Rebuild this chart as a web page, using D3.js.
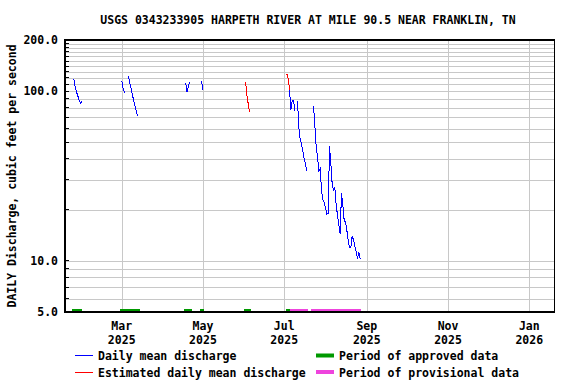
<!DOCTYPE html>
<html>
<head>
<meta charset="utf-8">
<script src="https://cdn.jsdelivr.net/npm/d3@7"></script>
<style>
  body { margin: 0; background: #fff; }
  svg text { font-family: "DejaVu Sans Mono", monospace; font-weight: bold; font-size: 11.5px; fill: #000; }
</style>
</head>
<body>
<svg id="chart" width="576" height="384"></svg>
<script>

var title = "USGS 0343233905 HARPETH RIVER AT MILE 90.5 NEAR FRANKLIN, TN";
var yTitle = "DAILY Discharge, cubic feet per second";

// daily mean discharge, runs of consecutive days (start date + values)
var dailyStarts = ["2025-01-24", "2025-03-01", "2025-03-06", "2025-04-18", "2025-04-30", "2025-07-05", "2025-07-11", "2025-07-23"];
var dailyValues = [
  [118, 107, 99, 94, 88, 85, 87],
  [115, 104, 98],
  [123, 112, 104, 95, 88, 82, 76, 71],
  [112, 99, 106, 113],
  [115, 101],
  [102, 77, 88, 88, 76],
  [87, 61, 52, 49, 44, 40, 37, 34],
  [82, 63, 47, 41, 34, 35, 26, 23, 22, 20.5, 18.9, 19.1, 47.5, 37.7, 28.4, 26.2, 27.2, 21.3, 18.6, 16.3,
   14.4, 25.1, 21.3, 17.4, 16.9, 15.2, 13.3, 12.0, 12.0, 14.0, 13.3, 12.2, 11.4, 10.3, 11.3, 10.3]
];

// estimated daily mean discharge
var estStarts = ["2025-06-02", "2025-07-03"];
var estValues = [
  [113, 94, 84, 75],
  [126, 118, 102]
];

// data approval periods
var approvedPeriods = [["2025-01-23", "2025-01-30"], ["2025-02-28", "2025-03-15"], ["2025-04-17", "2025-04-23"],
                       ["2025-04-29", "2025-05-02"], ["2025-06-01", "2025-06-06"], ["2025-07-02", "2025-07-05"]];
var provisionalPeriods = [["2025-07-05", "2025-07-19"], ["2025-07-21", "2025-08-28"]];

var gridValues = [5, 6, 7, 8, 9, 10, 20, 30, 40, 50, 60, 70, 80, 90, 100, 110, 120, 130, 140, 150, 160, 170, 180, 190, 200];
var yLabelValues = [5, 10, 100, 200];

var legendLines = ["Daily mean discharge", "Estimated daily mean discharge"];
var legendBars = ["Period of approved data", "Period of provisional data"];

var parse = d3.timeParse("%Y-%m-%d");

var plotLeft = 65, plotRight = 554.5, plotTop = 40, plotBottom = 312;

var svg = d3.select("#chart");

var x = d3.scaleTime()
  .domain([new Date(2025, 0, 17, 10), new Date(2026, 0, 19, 22)])
  .range([plotLeft, plotRight]);

var y = d3.scaleLog()
  .domain([5, 200])
  .range([plotBottom, plotTop]);

var monthTicks = x.ticks(d3.timeMonth.every(2));

// grid
svg.append("g")
  .attr("transform", "translate(" + plotLeft + ",0)")
  .call(d3.axisLeft(y).tickValues(gridValues).tickSize(-(plotRight - plotLeft)).tickFormat(""))
  .call(function(g) {
    g.select(".domain").remove();
    g.selectAll("line").attr("stroke", "#c8c8c8").attr("shape-rendering", "crispEdges");
  });

svg.append("g")
  .attr("transform", "translate(0," + plotBottom + ")")
  .call(d3.axisBottom(x).tickValues(monthTicks).tickSize(-(plotBottom - plotTop)).tickFormat(""))
  .call(function(g) {
    g.select(".domain").remove();
    g.selectAll("line").attr("stroke", "#c8c8c8").attr("shape-rendering", "crispEdges");
  });

// approval bars
function drawPeriods(periods, color) {
  svg.append("g").selectAll("rect")
    .data(periods)
    .enter().append("rect")
    .attr("x", function(p) { return x(parse(p[0])); })
    .attr("width", function(p) { return x(parse(p[1])) - x(parse(p[0])); })
    .attr("y", plotBottom - 3.5)
    .attr("height", 3.5)
    .attr("fill", color)
    .attr("shape-rendering", "crispEdges");
}
drawPeriods(approvedPeriods, "#009900");
drawPeriods(provisionalPeriods, "#ee44dd");

// discharge lines
var line = d3.line()
  .x(function(d) { return x(d.date); })
  .y(function(d) { return y(d.value); });

function runs(starts, values) {
  return starts.map(function(s, i) {
    var start = parse(s);
    return values[i].map(function(v, j) {
      return { date: d3.timeDay.offset(start, j), value: v };
    });
  });
}

function drawRuns(data, color) {
  svg.append("g").selectAll("path")
    .data(data)
    .enter().append("path")
    .attr("d", line)
    .attr("fill", "none")
    .attr("stroke", color)
    .attr("stroke-width", 1)
    .attr("shape-rendering", "crispEdges");
}
drawRuns(runs(dailyStarts, dailyValues), "#0000ff");
drawRuns(runs(estStarts, estValues), "#ff0000");

// frame
svg.append("rect")
  .attr("x", plotLeft).attr("y", plotTop)
  .attr("width", plotRight - plotLeft).attr("height", plotBottom - plotTop)
  .attr("fill", "none")
  .attr("stroke", "#000")
  .attr("stroke-width", 1.5)
  .attr("shape-rendering", "crispEdges");

// left ticks
svg.append("g").selectAll("line")
  .data(gridValues)
  .enter().append("line")
  .attr("x1", plotLeft).attr("x2", plotLeft + 4)
  .attr("y1", function(v) { return y(v); })
  .attr("y2", function(v) { return y(v); })
  .attr("stroke", "#000")
  .attr("shape-rendering", "crispEdges");

// y labels
svg.append("g").selectAll("text")
  .data(yLabelValues)
  .enter().append("text")
  .attr("x", 58)
  .attr("y", function(v) { return y(v) + 4; })
  .attr("text-anchor", "end")
  .text(d3.format(".1f"));

// x labels
var xl = svg.append("g").selectAll("g")
  .data(monthTicks)
  .enter().append("g");
xl.append("text")
  .attr("x", function(d) { return x(d); })
  .attr("y", 329.5)
  .attr("text-anchor", "middle")
  .text(d3.timeFormat("%b"));
xl.append("text")
  .attr("x", function(d) { return x(d); })
  .attr("y", 343.5)
  .attr("text-anchor", "middle")
  .text(d3.timeFormat("%Y"));

// titles
svg.append("text")
  .attr("x", 308)
  .attr("y", 24)
  .attr("text-anchor", "middle")
  .text(title);

svg.append("text")
  .attr("transform", "translate(16,176) rotate(-90)")
  .attr("text-anchor", "middle")
  .text(yTitle);

// legend
var lineColors = ["#0000ff", "#ff0000"];
var barColors = ["#009900", "#ee44dd"];

legendLines.forEach(function(t, i) {
  var ly = 355.5 + i * 16.5;
  svg.append("line")
    .attr("x1", 75).attr("x2", 93)
    .attr("y1", ly).attr("y2", ly)
    .attr("stroke", lineColors[i])
    .attr("shape-rendering", "crispEdges");
  svg.append("text").attr("x", 98).attr("y", ly + 4.5).text(t);
});

legendBars.forEach(function(t, i) {
  var ly = 355.5 + i * 16.5;
  svg.append("rect")
    .attr("x", 316).attr("y", ly - 2)
    .attr("width", 18).attr("height", 4)
    .attr("fill", barColors[i]);
  svg.append("text").attr("x", 339).attr("y", ly + 4.5).text(t);
});

</script>
</body>
</html>
